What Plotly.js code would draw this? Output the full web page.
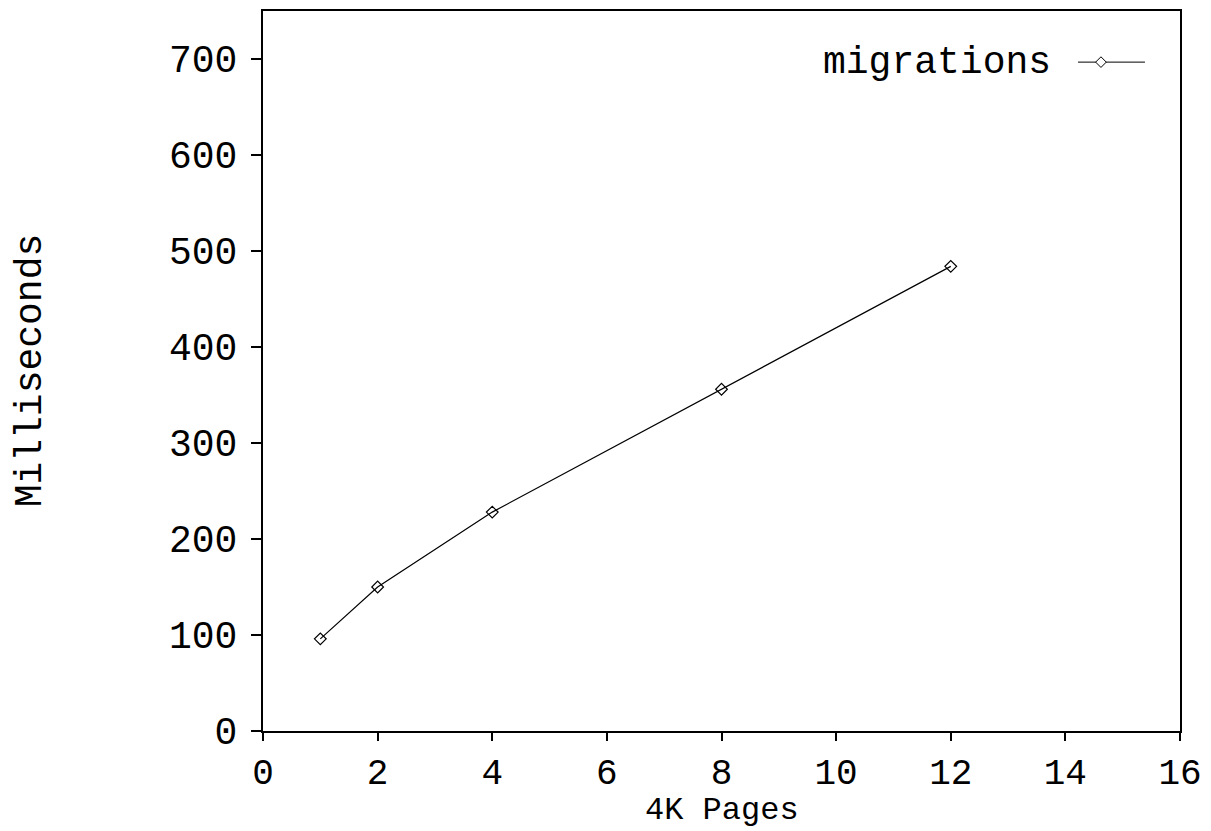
<!DOCTYPE html>
<html>
<head>
<meta charset="utf-8">
<script src="https://cdn.plot.ly/plotly-3.0.1.min.js"></script>
<style>html,body{margin:0;padding:0;background:#fff;}#chart{width:1211px;height:831px;}</style>
</head>
<body>
<div id="chart"></div>
<script>
var pages = [1, 2, 4, 8, 12];
var milliseconds = [96, 150, 228, 356, 484];
var seriesName = 'migrations';
var xTitle = '4K Pages';
var yTitle = 'Milliseconds';

var FONT = '"Liberation Mono", "Courier New", monospace';
var FS = 38;

var trace = {
  x: pages, y: milliseconds, name: seriesName,
  type: 'scatter', mode: 'lines+markers',
  line: {color: '#000', width: 1.2},
  marker: {symbol: 'diamond-open', size: 9, color: '#000', line: {width: 1.2, color: '#000'}},
  showlegend: false
};

// legend sample drawn in paper coordinates (symbol to the right of text)
var lx = 0.9138, ly = 0.929, dx = 0.0058, dy = 0.0074;
var layout = {
  width: 1211, height: 831,
  margin: {l: 263, r: 31, t: 11, b: 100},
  paper_bgcolor: '#fff', plot_bgcolor: '#fff',
  font: {family: FONT, size: FS, color: '#000'},
  xaxis: {
    range: [0, 16], dtick: 2, tick0: 0,
    showgrid: false, zeroline: false,
    showline: true, mirror: true, linecolor: '#000', linewidth: 2,
    ticks: 'outside', ticklen: 8, tickwidth: 2, tickcolor: '#000',
    tickfont: {family: FONT, size: 36, color: '#000'},
    automargin: false
  },
  yaxis: {
    range: [0, 750], dtick: 100, tick0: 0,
    showgrid: false, zeroline: false,
    showline: true, mirror: true, linecolor: '#000', linewidth: 2,
    ticks: 'outside', ticklen: 10, tickwidth: 2, tickcolor: '#000',
    ticklabelstandoff: 6,
    tickfont: {family: FONT, size: FS, color: '#000'},
    automargin: false
  },
  annotations: [
    {xref: 'paper', yref: 'paper', x: 0.8615, y: ly,
     xanchor: 'right', yanchor: 'middle', showarrow: false,
     text: seriesName, font: {family: FONT, size: FS, color: '#000'}},
    {xref: 'paper', yref: 'paper', x: 0.5, y: -0.1388,
     xanchor: 'center', yanchor: 'bottom', showarrow: false,
     text: xTitle, font: {family: FONT, size: 32, color: '#000'}},
    {xref: 'paper', yref: 'paper', x: -0.254, y: 0.501,
     xanchor: 'center', yanchor: 'middle', showarrow: false, textangle: -90,
     text: yTitle, font: {family: FONT, size: FS, color: '#000'}}
  ],
  shapes: [
    {type: 'line', xref: 'paper', yref: 'paper', x0: 0.8888, x1: 0.9618, y0: ly, y1: ly,
     line: {color: '#000', width: 1}},
    {type: 'path', xref: 'paper', yref: 'paper',
     path: 'M' + (lx - dx) + ',' + ly + ' L' + lx + ',' + (ly + dy) + ' L' + (lx + dx) + ',' + ly + ' L' + lx + ',' + (ly - dy) + ' Z',
     fillcolor: '#fff', line: {color: '#000', width: 1}}
  ],
  showlegend: false
};

Plotly.newPlot('chart', [trace], layout, {displayModeBar: false, staticPlot: true});
</script>
</body>
</html>
